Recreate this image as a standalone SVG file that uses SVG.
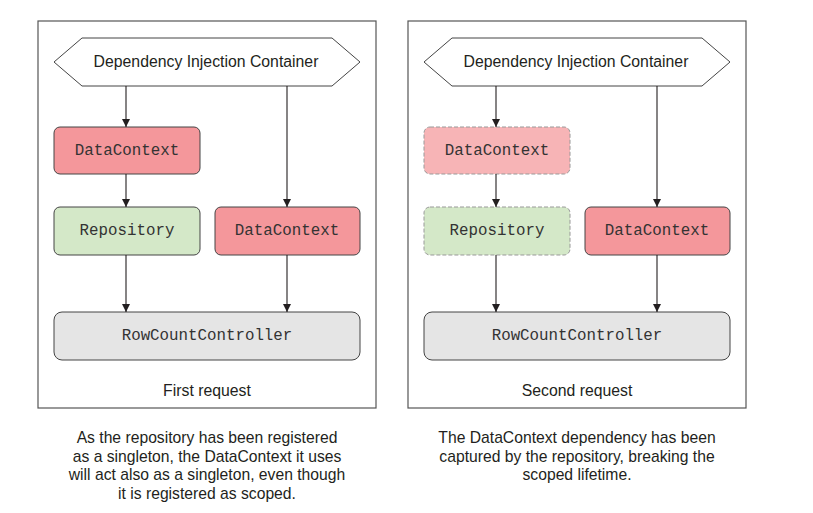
<svg xmlns="http://www.w3.org/2000/svg" width="813" height="513" viewBox="0 0 813 513">
<defs>
<marker id="ah" markerWidth="8" markerHeight="10" refX="8" refY="5" orient="auto" markerUnits="userSpaceOnUse">
<path d="M0,1 L8,5 L0,9 Z" fill="#231f20"/>
</marker>
</defs>
<style>
.frame{fill:#fff;stroke:#555;stroke-width:1.2}
.hex{fill:#fff;stroke:#444;stroke-width:1}
.red{fill:#f4979b;stroke:#444;stroke-width:1}
.redd{fill:#f7b4b6;stroke:#999;stroke-width:1;stroke-dasharray:4 2}
.green{fill:#d4e8c8;stroke:#444;stroke-width:1}
.greend{fill:#d4e8c8;stroke:#999;stroke-width:1;stroke-dasharray:4 2}
.gray{fill:#e5e5e5;stroke:#444;stroke-width:1}
.sans{font-family:"Liberation Sans",Arial,sans-serif;font-size:15.8px;fill:#231f20;text-anchor:middle}
.mono{font-family:"Liberation Mono","Courier New",monospace;font-size:15.8px;fill:#333;text-anchor:middle}
.cap{font-family:"Liberation Sans",Arial,sans-serif;font-size:15.7px;fill:#231f20;text-anchor:middle}
.conn{stroke:#231f20;stroke-width:1.1;fill:none}
</style>
<rect width="813" height="513" fill="#fff"/>
<g id="panel1">
<rect class="frame" x="38" y="21" width="338" height="387"/>
<text class="sans" x="207" y="396">First request</text>
</g>
<g id="panel2">
<rect class="frame" x="408" y="21" width="338" height="387"/>
<text class="sans" x="577" y="396">Second request</text>
</g>
<g id="container1">
<polygon class="hex" points="54,62 82,38 332,38 360,62 332,86 82,86"/>
<text class="sans" x="206" y="67">Dependency Injection Container</text>
</g>
<g id="datacontext1a">
<rect class="red" x="54" y="127" width="146" height="47" rx="6"/>
<text class="mono" x="127" y="155">DataContext</text>
</g>
<g id="repository1">
<rect class="green" x="54" y="207" width="146" height="48" rx="6"/>
<text class="mono" x="127" y="235">Repository</text>
</g>
<g id="datacontext1b">
<rect class="red" x="215" y="207" width="145" height="48" rx="6"/>
<text class="mono" x="287" y="235">DataContext</text>
</g>
<g id="controller1">
<rect class="gray" x="54" y="312" width="306" height="48" rx="8"/>
<text class="mono" x="207" y="340">RowCountController</text>
</g>
<g id="container2">
<polygon class="hex" points="424,62 452,38 702,38 730,62 702,86 452,86"/>
<text class="sans" x="576" y="67">Dependency Injection Container</text>
</g>
<g id="datacontext2a">
<rect class="redd" x="424" y="127" width="146" height="47" rx="6"/>
<text class="mono" x="497" y="155">DataContext</text>
</g>
<g id="repository2">
<rect class="greend" x="424" y="207" width="146" height="48" rx="6"/>
<text class="mono" x="497" y="235">Repository</text>
</g>
<g id="datacontext2b">
<rect class="red" x="585" y="207" width="145" height="48" rx="6"/>
<text class="mono" x="657" y="235">DataContext</text>
</g>
<g id="controller2">
<rect class="gray" x="424" y="312" width="306" height="48" rx="8"/>
<text class="mono" x="577" y="340">RowCountController</text>
</g>
<g id="connectors">
<line class="conn" x1="126" y1="86" x2="126" y2="127" marker-end="url(#ah)"/>
<line class="conn" x1="126" y1="174" x2="126" y2="207" marker-end="url(#ah)"/>
<line class="conn" x1="126" y1="255" x2="126" y2="312" marker-end="url(#ah)"/>
<line class="conn" x1="287" y1="86" x2="287" y2="207" marker-end="url(#ah)"/>
<line class="conn" x1="287" y1="255" x2="287" y2="312" marker-end="url(#ah)"/>
<line class="conn" x1="496" y1="86" x2="496" y2="127" marker-end="url(#ah)"/>
<line class="conn" x1="496" y1="174" x2="496" y2="207" marker-end="url(#ah)"/>
<line class="conn" x1="496" y1="255" x2="496" y2="312" marker-end="url(#ah)"/>
<line class="conn" x1="657" y1="86" x2="657" y2="207" marker-end="url(#ah)"/>
<line class="conn" x1="657" y1="255" x2="657" y2="312" marker-end="url(#ah)"/>
</g>
<g id="caption1">
<text class="cap" x="207" y="443">As the repository has been registered</text>
<text class="cap" x="207" y="461.5">as a singleton, the DataContext it uses</text>
<text class="cap" x="207" y="480">will act also as a singleton, even though</text>
<text class="cap" x="207" y="498.5">it is registered as scoped.</text>
</g>
<g id="caption2">
<text class="cap" x="577" y="443">The DataContext dependency has been</text>
<text class="cap" x="577" y="461.5">captured by the repository, breaking the</text>
<text class="cap" x="577" y="480">scoped lifetime.</text>
</g>
</svg>
